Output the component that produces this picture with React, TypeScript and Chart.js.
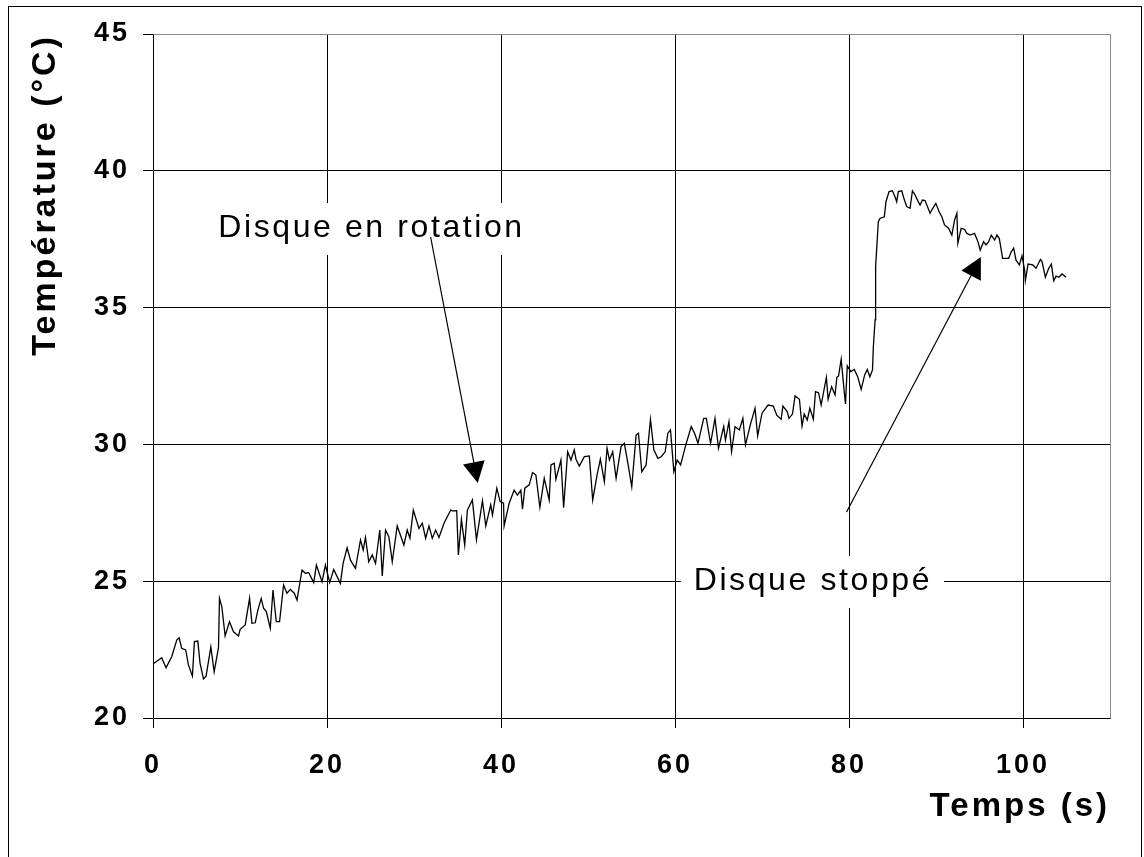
import React, { useEffect, useRef } from 'react';
import { Chart, registerables } from 'chart.js';

Chart.register(...registerables);

// ---- data (time in s, temperature in °C) ----
const timeS: number[] = [
  0.12, 1.0, 1.5, 2.15, 2.73, 3.0, 3.3, 3.76, 4.07, 4.53, 4.76, 5.15, 5.41, 5.8, 6.1, 6.65, 7.03, 7.53, 7.64, 7.91,
  8.29, 8.79, 9.25, 9.83, 10.02, 10.6, 11.1, 11.37, 11.75, 12.06, 12.44, 12.71, 13.02, 13.48, 13.79, 14.17, 14.55, 15.01, 15.4, 15.78,
  16.24, 16.55, 17.13, 17.51, 17.9, 18.47, 18.78, 19.43, 19.82, 20.31,
  20.77, 21.54, 21.85, 22.31, 22.7, 23.27, 23.85, 24.16, 24.42, 24.8, 25.2, 25.58, 26.07, 26.35, 26.73, 27.11, 27.5, 28.07, 28.84, 29.22,
  29.53, 29.92, 30.57, 30.95, 31.34, 31.72, 32.1, 32.49, 32.87, 33.45, 34.22, 34.41, 34.91, 35.1, 35.45, 35.83, 36.14, 36.71, 37.18, 37.87,
  38.25, 38.82, 39.02, 39.52, 39.9, 40.29, 40.36, 40.94, 41.51, 41.9, 42.28, 42.47, 42.74, 43.24, 43.63, 44.01, 44.47, 44.97, 45.54, 45.74,
  46.12, 46.31, 46.89, 47.2, 47.66, 48.04, 48.42, 48.62, 49.0, 49.58, 50.15, 50.54, 51.04, 51.42, 51.88, 52.19, 52.46, 52.84, 53.23, 53.8,
  54.18, 54.65, 55.03, 55.53, 55.8, 56.18, 56.68, 57.18, 57.57, 58.03, 58.41, 58.87, 59.18, 59.48, 59.87, 60.25, 60.64, 61.29, 61.87, 62.25,
  62.64, 63.3, 63.6, 64.09, 64.6, 65.0, 65.6, 65.8, 66.2, 66.5, 66.9, 67.4, 67.8, 68.1, 68.7, 69.2, 69.5, 70.0, 70.7, 71.3,
  71.7, 72.2, 72.4, 72.9, 73.1, 73.5, 73.8, 74.3, 74.6, 74.85, 75.2, 75.5, 75.9, 76.15, 76.5, 76.8, 77.4, 77.6, 78.0, 78.4,
  78.6, 78.8, 79.1, 79.45, 79.6, 79.8, 80.2, 80.6, 81.0, 81.4, 81.8, 82.1, 82.4, 82.7, 82.8, 82.9, 83.0, 83.06, 83.37, 83.56,
  84.06, 84.25, 84.6, 84.98, 85.29, 85.48, 85.67, 86.06, 86.37, 86.64, 87.02, 87.29, 87.59, 87.9, 88.17, 88.44, 88.74, 89.32, 89.52, 89.98,
  90.36, 90.67, 90.98, 91.44, 91.82, 92.13, 92.4, 92.51, 92.89, 93.28, 93.55, 93.93, 94.43, 94.82, 95.08, 95.47, 95.74, 96.05, 96.35, 96.74,
  97.0, 97.27, 97.66, 98.35, 98.65, 98.93, 99.19, 99.58, 99.88, 100.19, 100.27, 100.58, 101.12, 101.5, 102.0, 102.19, 102.57, 102.96, 103.26, 103.53,
  103.8, 104.11, 104.49, 104.95,
];

const tempC: number[] = [
  22.0, 22.2, 21.84, 22.24, 22.85, 22.93, 22.55, 22.49, 21.94, 21.53, 22.79, 22.81, 22.0, 21.43, 21.53, 22.6, 21.69, 22.58, 24.37, 24.07,
  23.0, 23.52, 23.15, 23.0, 23.24, 23.4, 24.37, 23.46, 23.48, 23.95, 24.37, 24.01, 23.89, 23.28, 24.68, 23.52, 23.52, 24.86, 24.56, 24.7,
  24.56, 24.31, 25.41, 25.29, 25.31, 24.95, 25.59, 24.98, 25.59, 24.95,
  25.43, 24.92, 25.65, 26.22, 25.77, 25.47, 26.51, 26.14, 26.6, 25.71, 25.96, 25.65, 26.87, 25.19, 26.87, 26.63, 25.71, 27.02, 26.32, 26.87,
  26.57, 27.6, 26.93, 27.12, 26.57, 27.02, 26.57, 26.87, 26.6, 27.12, 27.6, 27.57, 27.58, 25.96, 27.26, 26.32, 27.6, 27.97, 26.51, 27.94,
  27.02, 27.79, 27.42, 28.4, 27.91, 27.85, 27.02, 27.85, 28.33, 28.15, 28.33, 27.63, 28.4, 28.52, 28.97, 28.88, 27.7, 28.76, 27.97, 29.25,
  29.31, 28.72, 29.43, 27.69, 29.73, 29.43, 29.8, 29.46, 29.21, 29.55, 29.58, 27.97, 28.88, 29.46, 28.64, 29.86, 29.43, 29.73, 28.76, 29.92,
  30.04, 29.19, 28.45, 30.34, 30.41, 29.0, 29.25, 30.92, 29.8, 29.49, 29.55, 29.73, 30.41, 30.53, 29.0, 29.43, 29.25, 30.04, 30.65, 30.41,
  30.04, 30.95, 30.95, 30.04, 30.95, 29.86, 30.65, 30.16, 30.83, 29.73, 30.65, 30.53, 30.95, 29.98, 30.77, 31.32, 30.31, 31.14, 31.44, 31.4,
  31.07, 30.92, 31.4, 31.2, 30.95, 31.11, 31.77, 31.65, 30.67, 31.11, 30.89, 31.32, 30.92, 31.93, 31.89, 31.44, 32.45, 31.65, 32.11, 31.81,
  32.45, 32.5, 33.11, 31.93, 31.48, 32.87, 32.66, 32.74, 32.47, 32.01, 32.54, 32.74, 32.47, 32.72, 33.57, 34.06, 34.55, 36.5, 38.14, 38.26,
  38.32, 38.87, 39.24, 39.27, 39.05, 38.87, 39.24, 39.27, 38.93, 38.69, 38.63, 39.27, 39.12, 38.91, 38.75, 38.93, 38.91, 38.45, 38.57, 38.81,
  38.5, 38.32, 38.02, 37.9, 37.65, 38.2, 38.45, 37.35, 37.9, 37.86, 37.71, 37.65, 37.71, 37.41, 37.1, 37.41, 37.29, 37.41, 37.65, 37.47,
  37.65, 37.53, 36.8, 36.8, 37.04, 37.17, 36.74, 36.56, 36.89, 36.37, 35.98, 36.59, 36.56, 36.44, 36.76, 36.68, 36.11, 36.44, 36.59, 35.98,
  36.15, 36.11, 36.23, 36.11,
];

// ---- axis settings / texts ----
const xRange = [0, 110];
const yRange = [20, 45];
const xStep = 20;
const yStep = 5;
const xTitle = 'Temps (s)';
const yTitle = 'Température (°C)';
const noteRotation = 'Disque en rotation';
const noteStopped = 'Disque stoppé';

// annotation anchors in data units
const noteRotationAt = { x: 7.5, y: 37.58 };
const noteStoppedAt = { x: 62.15, y: 24.68 };
const arrowRotation = { from: { x: 31.91, y: 37.58 }, to: { x: 37.33, y: 28.59 } };
const arrowStopped = { from: { x: 79.72, y: 27.53 }, to: { x: 95.16, y: 36.85 } };

const FONT = "'Liberation Sans', Arial, Helvetica, sans-serif";

const annotationPlugin = {
  id: 'annotations',
  beforeDraw(chart: any) {
    (chart.ctx as any).letterSpacing = '3px';
  },
  afterDraw(chart: any) {
    const { ctx, chartArea } = chart;
    const xs = chart.scales.x;
    const ys = chart.scales.y;
    ctx.save();
    // plot border (top / right) in grey
    ctx.strokeStyle = '#8a8a8a';
    ctx.lineWidth = 1;
    ctx.beginPath();
    ctx.moveTo(Math.round(chartArea.left) + 0.5, Math.round(chartArea.top) + 0.5);
    ctx.lineTo(Math.round(chartArea.right) + 0.5, Math.round(chartArea.top) + 0.5);
    ctx.lineTo(Math.round(chartArea.right) + 0.5, Math.round(chartArea.bottom) + 0.5);
    ctx.stroke();

    ctx.font = `32px ${FONT}`;
    (ctx as any).letterSpacing = '2.6px';
    ctx.textAlign = 'left';
    ctx.textBaseline = 'alphabetic';

    const drawNote = (text: string, at: any) => {
      const px = xs.getPixelForValue(at.x);
      const py = ys.getPixelForValue(at.y);
      const w = ctx.measureText(text).width;
      ctx.fillStyle = '#fff';
      ctx.fillRect(px - 13, py - 34, w + 25, 52);
      ctx.fillStyle = '#000';
      ctx.fillText(text, px, py);
    };
    drawNote(noteRotation, noteRotationAt);
    drawNote(noteStopped, noteStoppedAt);

    const drawArrow = (a: any) => {
      const x1 = xs.getPixelForValue(a.from.x);
      const y1 = ys.getPixelForValue(a.from.y);
      const x2 = xs.getPixelForValue(a.to.x);
      const y2 = ys.getPixelForValue(a.to.y);
      const dx = x2 - x1;
      const dy = y2 - y1;
      const len = Math.hypot(dx, dy);
      const ux = dx / len;
      const uy = dy / len;
      const hl = 21;
      const hw = 11;
      const bx = x2 - ux * hl;
      const by = y2 - uy * hl;
      ctx.strokeStyle = '#000';
      ctx.lineWidth = 1.2;
      ctx.beginPath();
      ctx.moveTo(x1, y1);
      ctx.lineTo(bx, by);
      ctx.stroke();
      ctx.beginPath();
      ctx.moveTo(x2, y2);
      ctx.lineTo(bx - uy * hw, by + ux * hw);
      ctx.lineTo(bx + uy * hw, by - ux * hw);
      ctx.closePath();
      ctx.fillStyle = '#000';
      ctx.fill();
    };
    drawArrow(arrowRotation);
    drawArrow(arrowStopped);
    ctx.restore();
  },
};

export default function App() {
  const ref = useRef<HTMLCanvasElement | null>(null);

  useEffect(() => {
    if (!ref.current) return;
    const points = timeS.map((t, i) => ({ x: t, y: tempC[i] }));
    const tickFont = { family: FONT, size: 27, weight: 'bold' as const };
    const titleFont = { family: FONT, size: 33, weight: 'bold' as const };
    const chart = new Chart(ref.current, {
      type: 'line',
      data: {
        datasets: [
          {
            data: points,
            borderColor: '#000',
            borderWidth: 1.3,
            pointRadius: 0,
            tension: 0,
            fill: false,
          },
        ],
      },
      options: {
        animation: false,
        responsive: false,
        devicePixelRatio: 1,
        layout: { padding: { top: 34, right: 34, left: 0, bottom: 0 } },
        plugins: { legend: { display: false }, tooltip: { enabled: false } },
        scales: {
          x: {
            type: 'linear',
            min: xRange[0],
            max: xRange[1],
            afterFit: (s: any) => {
              s.height = 139;
            },
            ticks: { stepSize: xStep, includeBounds: false, color: '#000', font: tickFont, padding: 21, maxRotation: 0 },
            grid: { color: '#000', lineWidth: 1, tickLength: 10, tickColor: '#000' },
            border: { color: '#000', width: 1 },
            title: { display: true, text: xTitle, align: 'end', color: '#000', font: titleFont, padding: { top: 0, bottom: 30 } },
          },
          y: {
            type: 'linear',
            min: yRange[0],
            max: yRange[1],
            afterFit: (s: any) => {
              s.width = 153;
            },
            ticks: { stepSize: yStep, color: '#000', font: tickFont, padding: 13 },
            grid: {
              color: (c: any) => (c.tick && c.tick.value === yRange[1] ? '#8a8a8a' : '#000'),
              lineWidth: 1,
              tickLength: 10,
              tickColor: '#000',
            },
            border: { color: '#000', width: 1 },
            title: { display: true, text: yTitle, align: 'end', color: '#000', font: { ...titleFont, size: 34 }, padding: { top: 25, bottom: 0 } },
          },
        },
      },
      plugins: [annotationPlugin],
    });
    return () => chart.destroy();
  }, []);

  return (
    <div>
      <div
        style={{
          position: 'fixed',
          left: 8,
          top: 6,
          width: 1134,
          height: 900,
          border: '1px solid #000',
          boxSizing: 'border-box',
          background: '#fff',
        }}
      />
      <canvas ref={ref} width={1144} height={857} style={{ position: 'fixed', left: 0, top: 0 }} />
    </div>
  );
}
